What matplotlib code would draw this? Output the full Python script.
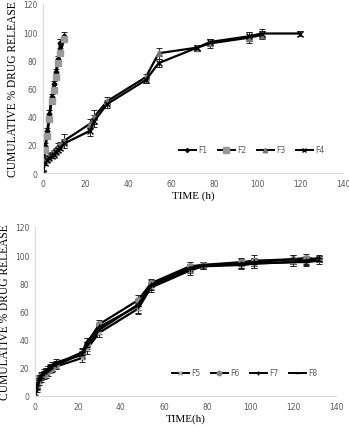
import matplotlib.pyplot as plt
from matplotlib.lines import Line2D
import numpy as np

# top panel: F1-F4
t_fast = [0, 1, 2, 3, 4, 5, 6, 7, 8, 10]
f1 = [0, 19, 30, 42, 54, 63, 72, 81, 92, 97]
f1_err = [0, 2, 2, 3, 2, 2, 2, 2, 3, 3]
f2 = [0, 16, 26, 38, 51, 59, 68, 78, 85, 95]
f2_err = [0, 1, 1, 1, 1, 1, 1, 1, 1, 1]

t_slow3 = [0, 1, 2, 3, 4, 5, 6, 7, 8, 10, 22, 24, 30, 48, 54, 72, 78, 96, 102]
f3 = [0, 9, 11, 13, 14, 15, 17, 19, 20, 23, 35, 40, 51, 68, 85, 89, 92, 96, 98]
f3_err = [0, 1, 1, 1, 1, 1, 1, 2, 2, 5, 3, 5, 3, 2, 4, 2, 3, 4, 3]
t_slow4 = [0, 1, 2, 3, 4, 5, 6, 7, 8, 10, 22, 24, 30, 48, 54, 72, 78, 96, 102, 120]
f4 = [0, 7, 9, 11, 12, 13, 15, 16, 18, 21, 30, 37, 49, 66, 78, 89, 93, 97, 99, 99]
f4_err = [0, 1, 1, 1, 1, 1, 1, 1, 2, 3, 4, 4, 3, 2, 3, 2, 2, 3, 3, 2]

# bottom panel: F5-F8
t_b = [0, 1, 2, 3, 4, 5, 6, 7, 8, 10, 22, 24, 30, 48, 54, 72, 78, 96, 102, 120, 126, 132]
f5 = [0, 6, 10, 12, 14, 15, 16, 18, 19, 21, 27, 33, 45, 62, 77, 89, 92, 93, 94, 95, 96, 97]
f5_err = [0, 2, 2, 2, 2, 2, 2, 2, 2, 2, 3, 3, 3, 4, 3, 3, 2, 2, 3, 3, 2, 2]
f6 = [0, 7, 12, 14, 15, 17, 18, 19, 20, 22, 30, 37, 51, 68, 80, 92, 93, 95, 96, 97, 98, 97]
f6_err = [0, 2, 2, 2, 2, 2, 2, 2, 2, 2, 3, 4, 3, 4, 3, 3, 2, 3, 4, 3, 3, 2]
f7 = [0, 5, 11, 13, 16, 18, 19, 20, 21, 23, 31, 38, 49, 64, 79, 90, 92, 94, 95, 97, 96, 98]
f7_err = [0, 2, 2, 2, 2, 2, 2, 2, 3, 2, 3, 3, 3, 5, 3, 3, 2, 3, 3, 3, 3, 2]
f8 = [0, 8, 13, 15, 17, 18, 19, 21, 22, 24, 29, 35, 47, 65, 78, 91, 93, 93, 94, 95, 95, 96]
f8_err = [0, 2, 2, 2, 2, 2, 2, 2, 2, 2, 3, 3, 3, 4, 3, 3, 2, 3, 3, 3, 3, 2]

fig = plt.figure(figsize=(3.49, 4.27), dpi=100)
ax1 = fig.add_axes([0.123, 0.5925, 0.86, 0.396])
ax2 = fig.add_axes([0.100, 0.0703, 0.863, 0.396])

tick_col = '#595959'
serif = 'Liberation Serif'


def style(ax, xlabel):
    ax.set_xlim(0, 140)
    ax.set_ylim(0, 120)
    ax.set_xticks(np.arange(0, 141, 20))
    ax.set_yticks(np.arange(0, 121, 20))
    ax.tick_params(length=0, labelsize=5.5, labelcolor=tick_col, pad=4)
    for s in ['top', 'right']:
        ax.spines[s].set_visible(False)
    for s in ['left', 'bottom']:
        ax.spines[s].set_color('#d9d9d9')
        ax.spines[s].set_linewidth(0.8)
    ax.set_xlabel(xlabel, family=serif, fontsize=8, labelpad=2)
    ax.set_ylabel('CUMULATIVE % DRUG RELEASE', family=serif, fontsize=8.3, labelpad=3)


def series(ax, t, y, err, marker, mcol, ms, label):
    ax.errorbar(t, y, yerr=err, color='black', lw=1.6, marker=marker, ms=ms,
                mfc=mcol, mec=mcol, ecolor='#222222', elinewidth=0.7, capsize=2,
                capthick=0.7)
    return Line2D([], [], color='black', lw=1.4, marker=marker, ms=ms * 0.8,
                  mfc=mcol, mec=mcol, label=label)


h1 = [series(ax1, t_fast, f1, f1_err, 'D', 'black', 2.5, 'F1'),
      series(ax1, t_fast, f2, f2_err, 's', '#999999', 5, 'F2'),
      series(ax1, t_slow3, f3, f3_err, '^', '#777777', 4, 'F3'),
      series(ax1, t_slow4, f4, f4_err, 'x', 'black', 4, 'F4')]
style(ax1, 'TIME (h)')

h2 = [series(ax2, t_b, f5, f5_err, 'x', '#aaaaaa', 3.5, 'F5'),
      series(ax2, t_b, f6, f6_err, 'o', '#888888', 4, 'F6'),
      series(ax2, t_b, f7, f7_err, '+', 'black', 4, 'F7'),
      series(ax2, t_b, f8, f8_err, '_', 'black', 4, 'F8')]
style(ax2, 'TIME(h)')

for ax, hs in ((ax1, h1), (ax2, h2)):
    leg = ax.legend(handles=hs, ncol=4, loc='lower right', bbox_to_anchor=(0.96, 0.07),
                    frameon=False, fontsize=5.5, handlelength=2.2, handletextpad=0.3,
                    columnspacing=1.4)
    for txt in leg.get_texts():
        txt.set_color(tick_col)

fig.savefig('out.png', dpi=100)
